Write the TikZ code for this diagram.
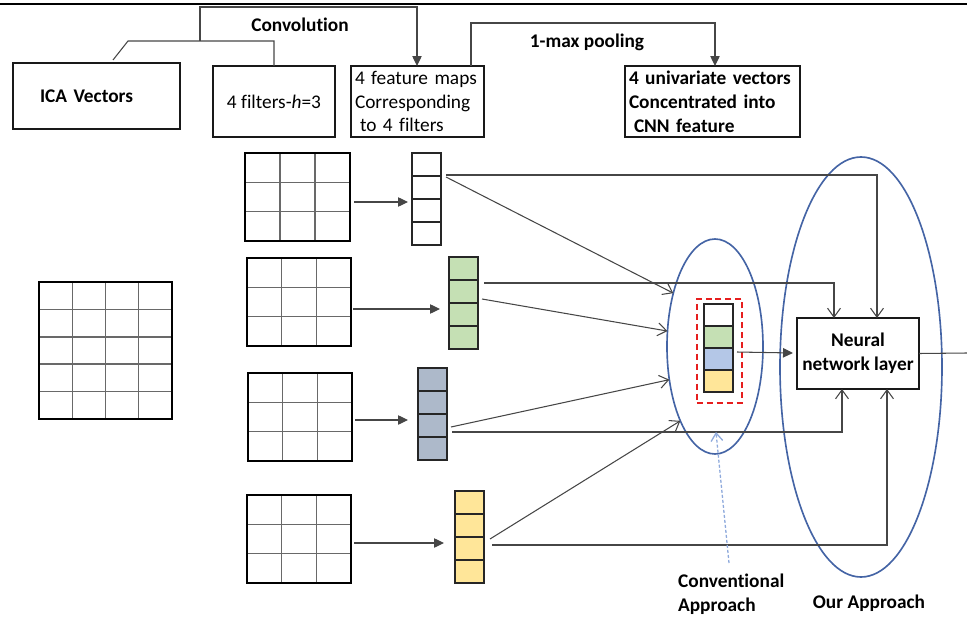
\documentclass[tikz,border=0pt]{standalone}
\usepackage{fontspec}
\setmainfont{Carlito}[Ligatures=NoCommon]
\usetikzlibrary{arrows.meta,calc,shapes.geometric}
\newlength\pxu \setlength\pxu{0.03cm}

\definecolor{lineg}{RGB}{70,70,70}
\definecolor{gridg}{RGB}{105,105,105}
\definecolor{cgreen}{RGB}{197,224,180}
\definecolor{cslate}{RGB}{173,185,202}
\definecolor{cblue}{RGB}{180,199,231}
\definecolor{cyellow}{RGB}{255,230,153}
\definecolor{ellblue}{RGB}{68,100,165}
\definecolor{dotblue}{RGB}{143,170,220}
\definecolor{dashred}{RGB}{230,30,30}

\tikzset{
  txtfont/.style={font=\fontsize{16.5}{20.4}\selectfont},
  boldfont/.style={font=\fontsize{16.5}{20.4}\selectfont\bfseries},
  box/.style={draw=black!90, line width=1.3pt, inner sep=0pt, outer sep=0pt, anchor=north west},
  gridbox/.style={draw=black, line width=1.5pt, inner sep=0pt, outer sep=0pt, anchor=north west},
  gridline/.style={draw=gridg, line width=1.2pt},
  vec/.style={draw=black!85, line width=1.3pt, minimum width=29\pxu, minimum height=92\pxu, inner sep=0pt, outer sep=0pt, anchor=north west},
  cell/.style={draw=black!85, line width=1.3pt, minimum width=29\pxu, minimum height=22\pxu, inner sep=0pt, outer sep=0pt},
  conn/.style={draw=lineg, line width=0.9pt},
  tri/.style={-{Triangle[length=8.5pt,width=8pt]}},
  barb/.style={-{Straight Barb[length=7.6pt,width=11pt]}},
  ring/.style={ellipse, draw=ellblue, line width=1.4pt, inner sep=0pt, outer sep=0pt},
}

\begin{document}
\begin{tikzpicture}[x=0.03cm, y=-0.03cm, txtfont]
\useasboundingbox (0,0) rectangle (967,619);

% page rule along the top
\draw[line width=1.2pt] (0,4) -- (967,4);

% header boxes
\node[box, boldfont, minimum width=167\pxu, minimum height=66\pxu, text width=113\pxu, inner xsep=27\pxu, align=left] (ica) at (13,63) {ICA Vectors};
\node[box, minimum width=122\pxu, minimum height=71\pxu] (filt) at (213,66) {4 filters-\textit{h}=3};
\node[box, minimum width=133\pxu, minimum height=71\pxu, text width=125\pxu, inner xsep=4\pxu, align=left] (fmap) at (351,66) {4 feature maps\\Corresponding\\\hspace*{5\pxu}to 4 filters};
\node[box, boldfont, minimum width=175\pxu, minimum height=71\pxu, text width=167\pxu, inner xsep=4\pxu, align=left] (uni) at (625,66) {4 univariate vectors\\Concentrated into\\\hspace*{5\pxu}CNN feature};

% step labels
\node[boldfont] (convtxt) at (300,25) {Convolution};
\node[boldfont] (pooltxt) at (587,42) {1-max pooling};

% convolution bracket
\coordinate (cj) at (200,41);
\draw[conn] ($(ica.north west)+(100,-3)$) -- ++(15,-19) -| (filt.north);
\draw[conn, tri] (cj) -- (200,7) -| ($(fmap.north west)+(66,0)$);
% pooling bracket
\draw[conn, tri] ($(fmap.north west)+(120,0)$) -- ++(0,-43) -| ($(uni.north west)+(90,0)$);

% input matrix
\node[gridbox, minimum width=133\pxu, minimum height=137\pxu] (ing) at (39,282) {};
\foreach \f in {1/4,2/4,3/4}
  \draw[gridline] ($(ing.north west)!\f!(ing.north east)$) -- ($(ing.south west)!\f!(ing.south east)$);
\foreach \f in {1/5,2/5,3/5,4/5}
  \draw[gridline] ($(ing.north west)!\f!(ing.south west)$) -- ($(ing.north east)!\f!(ing.south east)$);
\draw[line width=1.5pt] (ing.north west) rectangle (ing.south east);

% filters
\node[gridbox, minimum width=105\pxu, minimum height=88\pxu] (g1) at (245,153) {};
\node[gridbox, minimum width=104\pxu, minimum height=88\pxu] (g2) at (247,258) {};
\node[gridbox, minimum width=104\pxu, minimum height=88\pxu] (g3) at (248,373) {};
\node[gridbox, minimum width=104\pxu, minimum height=88\pxu] (g4) at (247,495) {};
\foreach \g in {g1,g2,g3,g4}{
  \foreach \f in {1/3,2/3}{
    \draw[gridline] ($(\g.north west)!\f!(\g.north east)$) -- ($(\g.south west)!\f!(\g.south east)$);
    \draw[gridline] ($(\g.north west)!\f!(\g.south west)$) -- ($(\g.north east)!\f!(\g.south east)$);
  }
  \draw[line width=1.5pt] (\g.north west) rectangle (\g.south east);
}

% feature maps
\node[vec] (v1) at (412,153) {};
\node[vec, fill=cgreen] (v2) at (449,257) {};
\node[vec, fill=cslate] (v3) at (418,368) {};
\node[vec, fill=cyellow] (v4) at (455,491) {};
\foreach \v in {v1,v2,v3,v4}
  \foreach \f in {0.25,0.5,0.75}
    \draw[draw=black!85, line width=1.1pt] ($(\v.north west)!\f!(\v.south west)$) -- ($(\v.north east)!\f!(\v.south east)$);

% filter -> feature map
\draw[conn, tri] ($(g1.north east)+(4,49)$) -- ($(v1.north west)+(-4,49)$);
\draw[conn, tri] ($(g2.north east)+(2,51)$) -- ($(v2.north west)+(-9,52)$);
\draw[conn, tri] ($(g3.north east)+(3,47)$) -- ($(v3.north west)+(-10,52)$);
\draw[conn, tri] ($(g4.north east)+(3,48)$) -- ($(v4.north west)+(-11,52)$);

% approach regions
\node[ring, minimum width=96\pxu, minimum height=215\pxu] (conv) at (715,346.5) {};
\node[ring, minimum width=162\pxu, minimum height=420\pxu] (ours) at (861,367) {};

% concatenated vector
\node[draw=dashred, line width=1.3pt, dash pattern=on 5.1pt off 3.4pt, minimum width=45\pxu, minimum height=104\pxu, inner sep=0pt, anchor=north west] (csbox) at (696,298) {};
\node[cell, anchor=north west] (cs1) at (704,304) {};
\node[cell, fill=cgreen, anchor=north] (cs2) at (cs1.south) {};
\node[cell, fill=cblue, anchor=north] (cs3) at (cs2.south) {};
\node[cell, fill=cyellow, anchor=north] (cs4) at (cs3.south) {};

% neural network layer
\node[box, boldfont, minimum width=122\pxu, minimum height=71\pxu, align=center] (nn) at (797,318) {Neural\\network layer};

% feature maps -> conventional region
\draw[conn, barb] ($(v1.north east)+(5,24)$) -- (conv.128);
\draw[conn, barb] ($(v2.north east)+(4,42)$) -- (conv.162);
\draw[conn, barb] ($(v3.north east)+(4,59)$) -- (conv.216);
\draw[conn, barb] ($(v4.north east)+(6,48)$) -- (conv.245);

% feature maps -> neural network layer
\draw[conn, barb] ($(v1.north east)+(5,22)$) -| ($(nn.north west)+(80,0)$);
\draw[conn, barb] ($(v2.north east)+(6,26)$) -| ($(nn.north west)+(37,0)$);
\draw[conn, barb] ($(v3.north east)+(5,64)$) -| ($(nn.south west)+(45,0)$);
\draw[conn, barb] ($(v4.north east)+(8,54)$) -| ($(nn.south west)+(90,0)$);

% concatenated vector -> layer, layer output
\draw[conn, tri] ($(cs3.north east)+(4,4)$) -- ($(nn.north west)+(-4,35)$);
\coordinate (outend) at (967,353);
\draw[conn] (nn.east) -- (outend);

% captions
\node[boldfont, align=left, anchor=west] (convlbl) at (674,594) {Conventional\\Approach};
\node[boldfont] (ourlbl) at (869,603) {Our Approach};
\coordinate (dstart) at (729,563);
\draw[draw=dotblue, line width=1.1pt, dash pattern=on 2.6pt off 1.7pt, -{Straight Barb[length=6.8pt,width=10pt]}] (dstart) -- ($(conv.south)+(1,-22)$);
\end{tikzpicture}
\end{document}
